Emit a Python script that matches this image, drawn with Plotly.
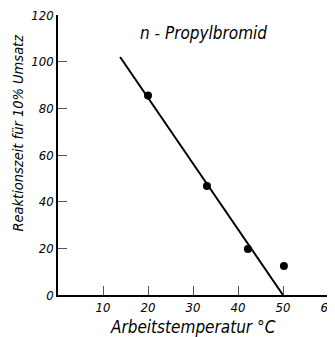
import plotly.graph_objects as go

# Data
temp_points = [20.0, 33.1, 42.2, 50.2]
time_points = [85.5, 46.7, 19.7, 12.4]
fit_temp = [13.8, 50.0]
fit_time = [102.0, 0.0]

x_tickvals = [10, 20, 30, 40, 50, 60]
y_tickvals = [0, 20, 40, 60, 80, 100, 120]

FONT = "DejaVu Sans Condensed"

fig = go.Figure()
fig.add_trace(go.Scatter(x=fit_temp, y=fit_time, mode="lines",
                         line=dict(color="black", width=2), showlegend=False))
fig.add_trace(go.Scatter(x=temp_points, y=time_points, mode="markers",
                         marker=dict(color="black", size=8), showlegend=False))

axis_common = dict(showgrid=False, zeroline=False, showline=True, linecolor="black",
                   linewidth=1.5, ticks="inside", ticklen=9, tickwidth=1, tickcolor="#555",
                   ticklabeloverflow="allow", automargin=False,
                   tickfont=dict(family=FONT, size=13, color="black", style="italic"))

fig.update_xaxes(range=[0, 60], tickvals=x_tickvals, ticktext=[str(v) for v in x_tickvals],
                 **axis_common)
fig.update_yaxes(range=[0, 120], tickvals=y_tickvals, ticktext=[str(v) for v in y_tickvals],
                 **axis_common)

fig.add_annotation(text="Arbeitstemperatur °C", xref="paper", yref="paper",
                   x=0.5, y=0, yshift=-32, showarrow=False, yanchor="middle",
                   font=dict(family=FONT, size=17, color="black", style="italic"))
fig.add_annotation(text="Reaktionszeit für 10% Umsatz", xref="paper", yref="paper",
                   x=0, xshift=-40, y=0.58, textangle=-90, showarrow=False,
                   xanchor="center", yanchor="middle",
                   font=dict(family=FONT, size=14.5, color="black", style="italic"))
fig.add_annotation(text="n - Propylbromid", xref="paper", yref="paper",
                   x=0.539, y=0.936, showarrow=False, xanchor="center", yanchor="middle",
                   font=dict(family=FONT, size=17, color="black", style="italic"))

# page body adds an 8px margin, so the plot area is placed 8px up/left
fig.update_layout(width=335, height=329, margin=dict(l=50, r=15, t=7, b=42),
                  plot_bgcolor="white", paper_bgcolor="white")

fig.write_html("out.html")
